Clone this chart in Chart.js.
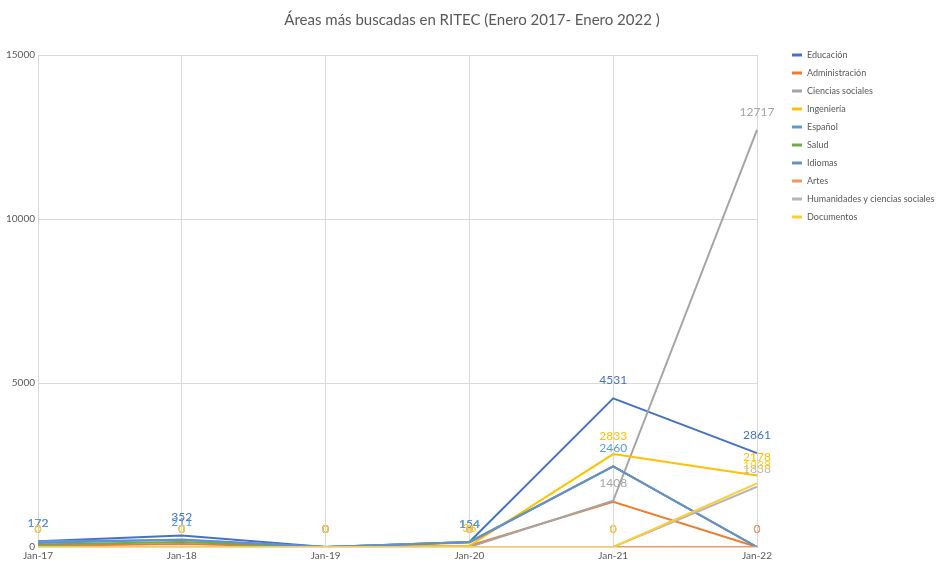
<!DOCTYPE html>
<html>
<head>
<meta charset="utf-8">
<script src="https://cdn.jsdelivr.net/npm/chart.js@4.4.1/dist/chart.umd.min.js"></script>
<style>
  html, body { margin: 0; padding: 0; background: #fff; }
  #wrap { width: 937px; height: 563px; }
</style>
</head>
<body>
<div id="wrap"><canvas id="lineChart"></canvas></div>
<script>
// data
const months = ["Jan-17", "Jan-18", "Jan-19", "Jan-20", "Jan-21", "Jan-22"];
const yTicks = [0, 5000, 10000, 15000];
const chartTitle = "Áreas más buscadas en RITEC (Enero 2017- Enero 2022 )";

const educacion = [172, 352, 0, 154, 4531, 2861];
const administracion = [40, 90, 0, 40, 1380, 0];
const cienciasSociales = [0, 0, 0, 0, 1408, 12717];
const ingenieria = [0, 0, 0, 36, 2833, 2178];
const espanol = [172, 211, 0, 154, 2460, 0];
const salud = [80, 150, 0, 154, 2460, 0];
const idiomas = [120, 230, 0, 140, 2460, 0];
const artes = [0, 0, 0, 0, 0, 0];
const humanidades = [0, 0, 0, 0, 0, 1838];
const documentos = [0, 0, 0, 0, 0, 1938];

const seriesNames = ["Educación", "Administración", "Ciencias sociales", "Ingeniería", "Español",
  "Salud", "Idiomas", "Artes", "Humanidades y ciencias sociales", "Documentos"];
const seriesData = [educacion, administracion, cienciasSociales, ingenieria, espanol,
  salud, idiomas, artes, humanidades, documentos];
const seriesColors = ["#4472C4", "#ED7D31", "#A5A5A5", "#FFC000", "#5B9BD5",
  "#70AD47", "#698ED0", "#F1975A", "#B7B7B7", "#FFCD33"];
// which series carry value labels
const labelled = [true, false, true, true, true, false, false, true, true, true];

const FONT = "Lato";

const datasets = seriesNames.map(function (name, i) {
  return {
    label: name,
    data: seriesData[i],
    borderColor: seriesColors[i],
    backgroundColor: seriesColors[i],
    borderWidth: 2,
    pointRadius: 0,
    tension: 0,
    order: seriesNames.length - i,
    showValues: labelled[i]
  };
});

// value labels above each point, later series on top
const valueLabels = {
  id: "valueLabels",
  afterDatasetsDraw(chart) {
    const ctx = chart.ctx;
    ctx.save();
    ctx.font = "12px " + FONT;
    ctx.textAlign = "center";
    ctx.textBaseline = "middle";
    chart.data.datasets.forEach(function (ds, i) {
      if (!ds.showValues) return;
      const meta = chart.getDatasetMeta(i);
      ctx.fillStyle = ds.borderColor;
      meta.data.forEach(function (pt, j) {
        ctx.fillText(String(ds.data[j]), pt.x, pt.y - 18);
      });
    });
    ctx.restore();
  }
};

// title over the whole canvas and legend on the right
const sideLegend = {
  id: "sideLegend",
  afterDraw(chart) {
    const ctx = chart.ctx;
    ctx.save();
    ctx.fillStyle = "#595959";
    ctx.font = "15px " + FONT;
    ctx.textAlign = "center";
    ctx.textBaseline = "middle";
    ctx.fillText(chartTitle, 472, 20);

    const x = chart.chartArea.right + 35;
    let y = chart.chartArea.top;
    ctx.font = "9px " + FONT;
    ctx.textAlign = "left";
    chart.data.datasets.forEach(function (ds) {
      ctx.fillStyle = ds.borderColor;
      ctx.fillRect(x, y - 1.5, 10, 3);
      ctx.fillStyle = "#595959";
      ctx.fillText(ds.label, x + 15, y);
      y += 18;
    });
    ctx.restore();
  }
};

function renderChart() {
  const ctx = document.getElementById("lineChart").getContext("2d");
  new Chart(ctx, {
    type: "line",
    data: { labels: months, datasets: datasets },
    plugins: [valueLabels, sideLegend],
    options: {
      responsive: true,
      maintainAspectRatio: false,
      animation: false,
      layout: { padding: { left: 0, right: 180, top: 55, bottom: 0 } },
      plugins: {
        title: { display: false },
        legend: { display: false },
        tooltip: { enabled: false }
      },
      scales: {
        x: {
          offset: false,
          grid: { color: "#D9D9D9", drawTicks: false },
          border: { color: "#D9D9D9" },
          ticks: {
            color: "#595959",
            font: { family: FONT, size: 10 },
            padding: 3,
            maxRotation: 0
          },
          afterFit: function (scale) { scale.height = 16; }
        },
        y: {
          min: 0,
          max: 15000,
          afterBuildTicks: function (scale) {
            scale.ticks = yTicks.map(function (v) { return { value: v }; });
          },
          grid: { color: "#D9D9D9", drawTicks: false },
          border: { display: false },
          ticks: {
            color: "#595959",
            font: { family: FONT, size: 10 },
            padding: 3,
            callback: function (v) { return String(v); }
          },
          afterFit: function (scale) { scale.width = 38; }
        }
      }
    }
  });
}

renderChart();
</script>
</body>
</html>
